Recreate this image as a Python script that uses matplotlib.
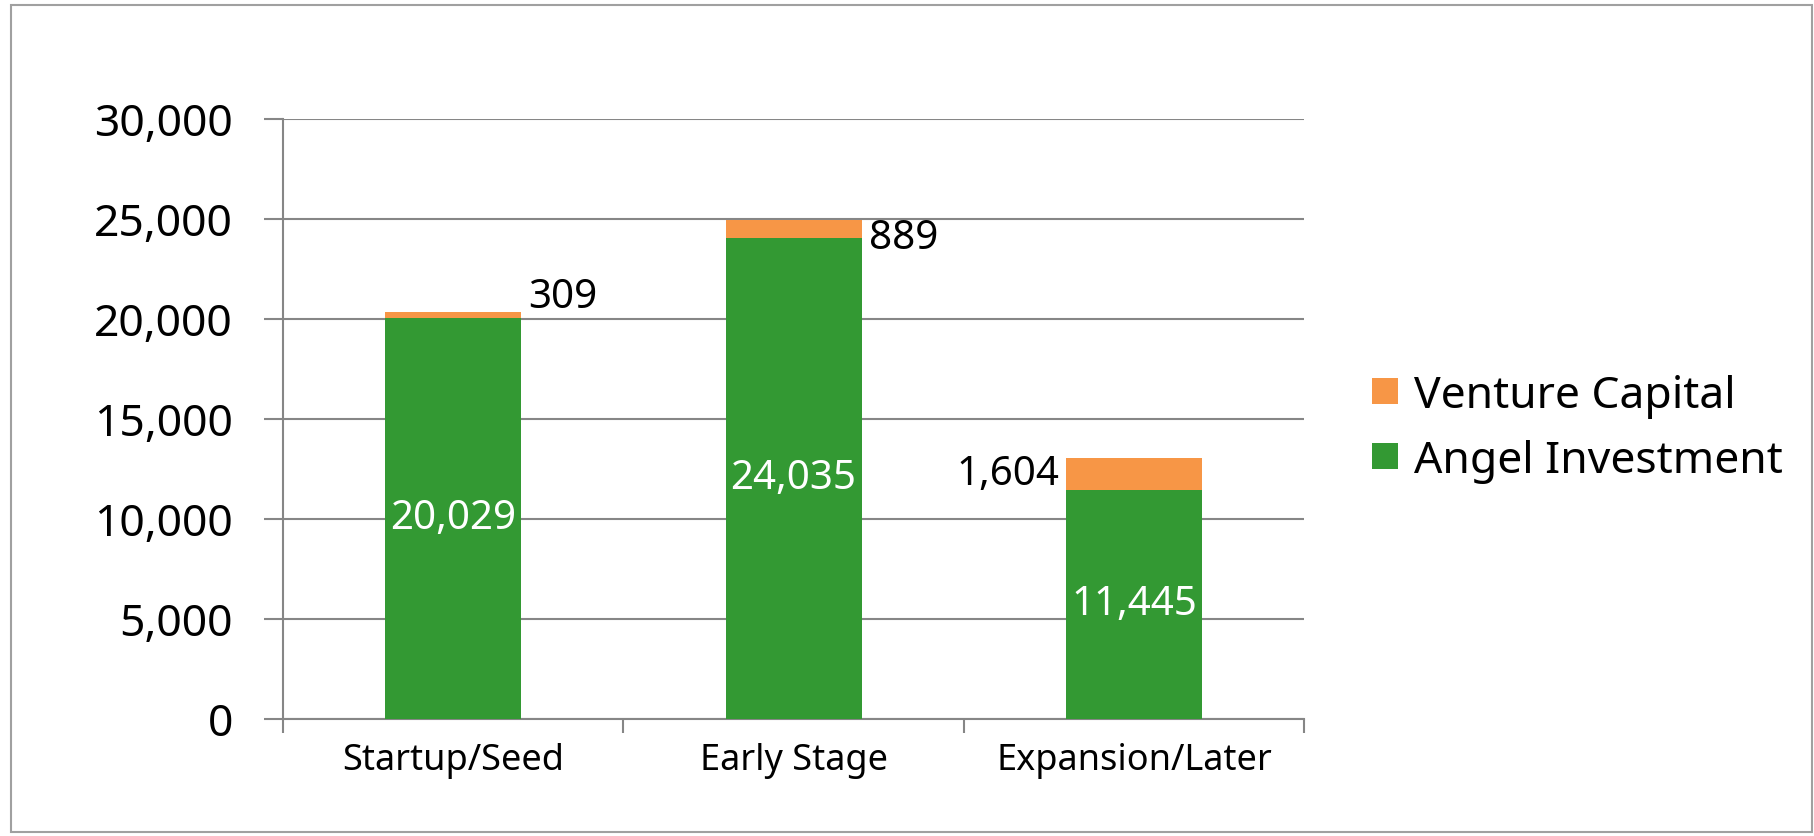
import matplotlib as mpl
mpl.use('Agg')
import matplotlib.pyplot as plt  # noqa
from matplotlib.patches import Rectangle  # noqa
from matplotlib.ticker import FuncFormatter  # noqa

categories = ['Startup/Seed', 'Early Stage', 'Expansion/Later']
angel = [20029, 24035, 11445]
venture = [309, 889, 1604]

green = '#339933'
orange = '#f79646'
grey = '#868686'

plt.rcParams['font.family'] = ['Noto Sans', 'DejaVu Sans']

fig = plt.figure(figsize=(18.14, 8.37), dpi=100)
ax = fig.add_axes([0.156, 0.140, 0.563, 0.717])

# outer frame like the spreadsheet chart area
fig.patches.append(Rectangle((0.006, 0.005), 0.993, 0.988, transform=fig.transFigure,
                             fill=False, edgecolor='#a0a0a0', lw=1.5))

x = range(len(categories))
ax.bar(x, angel, width=0.4, color=green, label='Angel Investment', zorder=3)
ax.bar(x, venture, width=0.4, bottom=angel, color=orange,
       label='Venture Capital', zorder=3)

ax.set_xlim(-0.5, 2.5)
ax.set_ylim(0, 30000)
ax.set_yticks(range(0, 30001, 5000))
ax.yaxis.set_major_formatter(FuncFormatter(lambda v, p: '{:,.0f}'.format(v)))
ax.grid(axis='y', color=grey, lw=1.5, zorder=0)

# category ticks sit on the boundaries
ax.set_xticks([-0.5, 0.5, 1.5, 2.5])
ax.set_xticklabels([])
ax.set_xticks(list(x), minor=True)
ax.set_xticklabels(categories, minor=True, fontsize=26)
ax.tick_params(axis='x', which='minor', length=0, pad=17)
ax.tick_params(axis='x', which='major', length=10, width=1.5, color=grey,
               direction='out')
ax.tick_params(axis='y', length=14, width=1.5, color=grey, labelsize=32, pad=22)

for s in ['top', 'right']:
    ax.spines[s].set_visible(False)
for s in ['left', 'bottom']:
    ax.spines[s].set_color(grey)
    ax.spines[s].set_linewidth(1.5)

# angel labels, white, centred in the bar
for i, v in enumerate(angel):
    ax.text(i, v / 2, '{:,}'.format(v), color='white', fontsize=29,
            ha='center', va='center', zorder=4)

# venture labels, placed by hand beside the small top segments
vc_off = [(0.22, 900, 'left'), (0.22, -450, 'left'), (-0.22, 0, 'right')]
for i, v in enumerate(venture):
    dx, dy, ha = vc_off[i]
    ax.text(i + dx, angel[i] + v / 2 + dy, '{:,}'.format(v), color='black',
            fontsize=29, ha=ha, va='center', zorder=4)

h, l = ax.get_legend_handles_labels()
fig.legend(h[::-1], l[::-1], loc='center left', bbox_to_anchor=(0.739, 0.487),
           frameon=False, fontsize=32, handlelength=0.6, handleheight=0.52,
           handletextpad=0.35, labelspacing=0.47, borderpad=0.2)

fig.savefig('out.png', dpi=100)
